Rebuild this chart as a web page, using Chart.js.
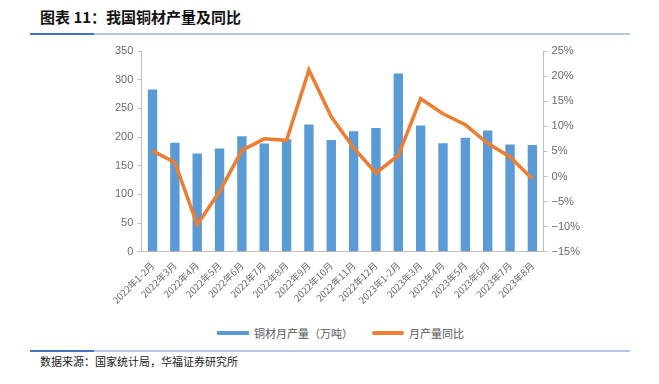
<!DOCTYPE html>
<html>
<head>
<meta charset="utf-8">
<script src="https://cdn.jsdelivr.net/npm/chart.js@4.4.0/dist/chart.umd.min.js"></script>
<style>
  body { margin: 0; background: #fff; width: 659px; height: 384px; position: relative; overflow: hidden; font-family: "Noto Sans CJK SC", sans-serif; }
  #title { position: absolute; left: 40px; top: 6px; font-size: 15px; font-weight: bold; color: #111; }
  #topline { position: absolute; left: 30px; top: 33px; width: 600px; height: 2px; background: #b4c7e7; }
  #topline span { display: block; width: 64px; height: 2px; background: #4472c4; }
  #botline { position: absolute; left: 30px; top: 350px; width: 600px; height: 2px; background: #b4c7e7; }
  #botline span { display: block; width: 64px; height: 2px; background: #4472c4; }
  #source { position: absolute; left: 40px; top: 353px; font-size: 11px; color: #222; }
  #wrap { position: absolute; left: 0; top: 40px; width: 659px; height: 266px; }
  .leg { position: absolute; top: 325px; font-size: 11px; color: #595959; display: flex; align-items: center; }
  .leg i { display: inline-block; width: 32px; height: 4px; margin-right: 5px; }
</style>
</head>
<body>
<div id="title">图表 11：我国铜材产量及同比</div>
<div id="topline"><span></span></div>
<div id="wrap"><canvas id="chart"></canvas></div>
<div class="leg" style="left:217px"><i style="background:#5b9bd5"></i>铜材月产量（万吨）</div>
<div class="leg" style="left:372px"><i style="background:#ed7d31;border-radius:2px"></i>月产量同比</div>
<div id="botline"><span></span></div>
<div id="source">数据来源：国家统计局，华福证券研究所</div>
<script>
const labels = ['2022年1-2月', '2022年3月', '2022年4月', '2022年5月', '2022年6月', '2022年7月',
  '2022年8月', '2022年9月', '2022年10月', '2022年11月', '2022年12月', '2023年1-2月',
  '2023年3月', '2023年4月', '2023年5月', '2023年6月', '2023年7月', '2023年8月'];
const output = [283, 190, 171.5, 180, 201.5, 188.6, 196, 222, 195, 210, 215.6, 311, 220, 189, 199, 211.5, 187, 186];
const yoy = [5.1, 2.8, -9.6, -3.0, 5.2, 7.5, 7.2, 21.2, 11.9, 5.7, 0.7, 4.2, 15.5, 12.5, 10.3, 6.6, 3.9, -0.5];

const tickFont = { family: "'Liberation Sans', Arial, sans-serif", size: 11 };
const grey = '#6b6b6b';
const axisGrey = '#bfbfbf';

new Chart(document.getElementById('chart'), {
  data: {
    labels: labels,
    datasets: [{
      type: 'line',
      label: '月产量同比',
      data: yoy,
      yAxisID: 'y1',
      borderColor: '#ed7d31',
      backgroundColor: '#ed7d31',
      borderWidth: 3.5,
      pointRadius: 0,
      tension: 0,
      order: 0
    }, {
      type: 'bar',
      label: '铜材月产量（万吨）',
      data: output,
      yAxisID: 'y',
      backgroundColor: '#5b9bd5',
      categoryPercentage: 1,
      barPercentage: 0.42,
      order: 1
    }]
  },
  options: {
    responsive: true,
    maintainAspectRatio: false,
    animation: false,
    layout: { padding: { left: 111, right: 75, top: 11, bottom: 0 } },
    scales: {
      x: {
        grid: { display: false },
        border: { color: axisGrey },
        ticks: { color: grey, font: { family: "'Noto Sans CJK SC', sans-serif", size: 9.5 }, maxRotation: 45, minRotation: 45, autoSkip: false, padding: 0 }
      },
      y: {
        position: 'left',
        min: 0, max: 350,
        grid: { drawOnChartArea: false, color: axisGrey, tickLength: 4 },
        border: { color: axisGrey },
        ticks: { stepSize: 50, color: grey, font: tickFont, padding: 4 }
      },
      y1: {
        position: 'right',
        min: -15, max: 25,
        grid: { drawOnChartArea: false, color: axisGrey, tickLength: 4 },
        border: { color: axisGrey },
        ticks: { stepSize: 5, color: grey, font: tickFont, padding: 4,
          callback: v => (v < 0 ? '\u2212' + Math.abs(v) : v) + '%' }
      }
    },
    plugins: {
      legend: { display: false },
      tooltip: { enabled: false }
    }
  }
});
</script>
</body>
</html>
